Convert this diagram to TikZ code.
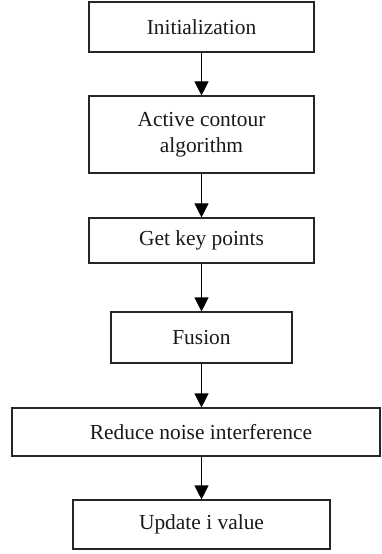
\documentclass[tikz,border=0pt]{standalone}
\usepackage{fontspec}
\setmainfont{Liberation Serif}
\usetikzlibrary{arrows.meta}
\begin{document}
\begin{tikzpicture}[x=1bp,y=-1bp,
  box/.style={draw=black!85, line width=1.1bp, inner sep=0pt, align=center,
    text=black!90, font=\fontsize{21.5}{26}\selectfont},
  arr/.style={draw=black, line width=1.1bp, -{Triangle[length=14bp,width=14bp]}}]
\useasboundingbox (0,0) rectangle (381,554);
\node[box, minimum width=225bp, minimum height=50bp] (init) at (201.5,27) {Initialization};
\node[box, minimum width=225bp, minimum height=77bp] (acm) at (201.5,134.5) {Active contour\\algorithm};
\node[box, minimum width=225bp, minimum height=45bp] (gkp) at (201.5,240.5) {Get key points};
\node[box, minimum width=181bp, minimum height=51bp] (fus) at (201.5,337.5) {Fusion};
\node[box, minimum width=368bp, minimum height=48bp] (red) at (196,432) {\hspace*{10bp}Reduce noise interference};
\node[box, minimum width=257bp, minimum height=49bp] (upd) at (201.5,524.5) {Update i value};
\draw[arr] (init) -- (acm);
\draw[arr] (acm) -- (gkp);
\draw[arr] (gkp) -- (fus);
\draw[arr] (fus) -- (fus.south |- red.north);
\draw[arr] (red.south -| upd.north) -- (upd);
\end{tikzpicture}
\end{document}
